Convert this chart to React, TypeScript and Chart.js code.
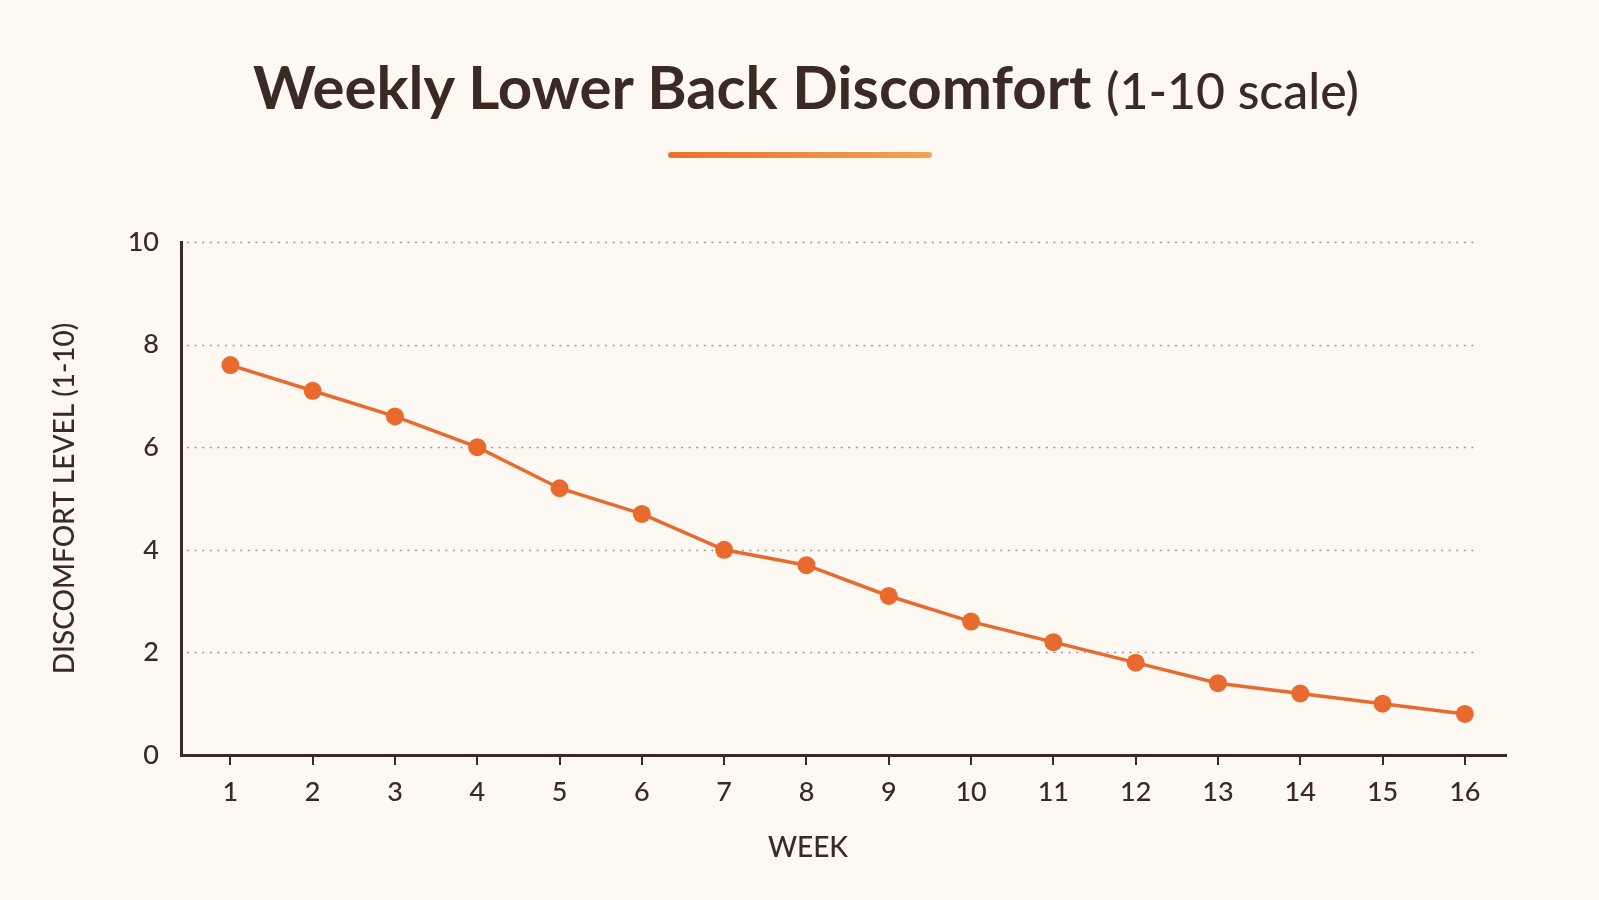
import React, { useEffect, useRef } from "react";
import { Chart, registerables } from "chart.js";

Chart.register(...registerables);

const weeks = [1, 2, 3, 4, 5, 6, 7, 8, 9, 10, 11, 12, 13, 14, 15, 16];
const discomfort = [7.6, 7.1, 6.6, 6.0, 5.2, 4.7, 4.0, 3.7, 3.1, 2.6, 2.2, 1.8, 1.4, 1.2, 1.0, 0.8];
const yTickValues = [0, 2, 4, 6, 8, 10];
const titleMain = "Weekly Lower Back Discomfort";
const titleSub = "(1-10 scale)";
const yAxisTitle = "DISCOMFORT LEVEL (1-10)";
const xAxisTitle = "WEEK";

const DARK = "#3B2A22";
const ORANGE = "#E86A2E";
const BG = "#FDF8F1";
const FONT = 'Lato, "Noto Sans", sans-serif';

const dottedGrid = {
  id: "dottedGrid",
  beforeDatasetsDraw(chart: any) {
    const { ctx, chartArea, scales } = chart;
    const y = scales.y;
    ctx.save();
    ctx.strokeStyle = "#A0978F";
    ctx.lineWidth = 1.6;
    ctx.setLineDash([2, 5.6]);
    y.ticks.forEach((t: any) => {
      if (t.value === 0) return;
      const py = Math.round(y.getPixelForValue(t.value)) + 0.5;
      ctx.beginPath();
      ctx.moveTo(chartArea.left + 6, py);
      ctx.lineTo(chartArea.right - 30, py);
      ctx.stroke();
    });
    ctx.restore();
  },
};

export default function App() {
  const ref = useRef<HTMLCanvasElement | null>(null);

  useEffect(() => {
    document.body.style.margin = "0";
    document.body.style.background = BG;
    const canvas = ref.current!;
    Chart.defaults.font.family = FONT;
    const chart = new Chart(canvas, {
      type: "line",
      data: {
        datasets: [
          {
            data: weeks.map((w, i) => ({ x: w, y: discomfort[i] })),
            borderColor: ORANGE,
            backgroundColor: ORANGE,
            borderWidth: 3.5,
            pointRadius: 9,
            pointBorderWidth: 0,
            pointBackgroundColor: ORANGE,
            tension: 0,
            fill: false,
          },
        ],
      },
      options: {
        responsive: false,
        animation: false,
        maintainAspectRatio: false,
        layout: { padding: { top: 242, bottom: 95, left: 48, right: 93 } },
        plugins: {
          legend: { display: false },
          tooltip: { enabled: false },
          title: { display: false },
        },
        scales: {
          x: {
            type: "linear",
            min: 0.4,
            max: 16.5,
            afterFit(scale: any) {
              scale.height = 50;
            },
            afterBuildTicks(scale: any) {
              scale.ticks = weeks.map((w) => ({ value: w }));
            },
            ticks: {
              autoSkip: false,
              maxRotation: 0,
              color: DARK,
              padding: 11,
              font: { size: 27, family: FONT, weight: "500" as any },
              callback: (v: any) => String(v),
            },
            grid: {
              drawOnChartArea: false,
              drawTicks: true,
              tickLength: 10,
              color: DARK,
              lineWidth: 2,
            },
            border: { display: true, color: DARK, width: 3 },
          },
          y: {
            min: 0,
            max: 10,
            afterFit(scale: any) {
              scale.width = 133;
            },
            afterBuildTicks(scale: any) {
              scale.ticks = yTickValues.map((v) => ({ value: v }));
            },
            ticks: {
              color: DARK,
              padding: 22,
              font: { size: 27, family: FONT, weight: "500" as any },
              callback: (v: any) => String(v),
            },
            grid: { display: false, drawTicks: false },
            border: { display: true, color: DARK, width: 3 },
            title: {
              display: true,
              text: yAxisTitle,
              color: DARK,
              font: { size: 28, family: FONT, weight: "500" as any },
              padding: { top: 0, bottom: 0 },
            },
          },
        },
      },
      plugins: [dottedGrid],
    } as any);
    return () => chart.destroy();
  }, []);

  return (
    <div
      style={{
        position: "fixed",
        left: 0,
        top: 0,
        width: 1599,
        height: 900,
        background: BG,
        overflow: "hidden",
        fontFamily: FONT,
        color: DARK,
      }}
    >
      <div
        style={{
          position: "absolute",
          left: 0,
          top: 56,
          width: 1612,
          textAlign: "center",
          fontSize: 60,
          lineHeight: "61px",
          fontWeight: 700,
          whiteSpace: "nowrap",
        }}
      >
        <span>{titleMain}</span>{" "}
        <span style={{ fontSize: 50, fontWeight: 500, lineHeight: 1 }}>{titleSub}</span>
      </div>
      <div
        style={{
          position: "absolute",
          left: 668,
          top: 152,
          width: 264,
          height: 6,
          borderRadius: 3,
          background: "linear-gradient(90deg, #E8722C, #F1A452)",
        }}
      />
      <canvas ref={ref} width={1599} height={900} style={{ position: "absolute", left: 0, top: 0, display: "block" }} />
      <div
        style={{
          position: "absolute",
          left: 0,
          top: 832,
          width: 1616,
          textAlign: "center",
          fontSize: 28,
          lineHeight: "28px",
          fontWeight: 500,
        }}
      >
        {xAxisTitle}
      </div>
    </div>
  );
}
